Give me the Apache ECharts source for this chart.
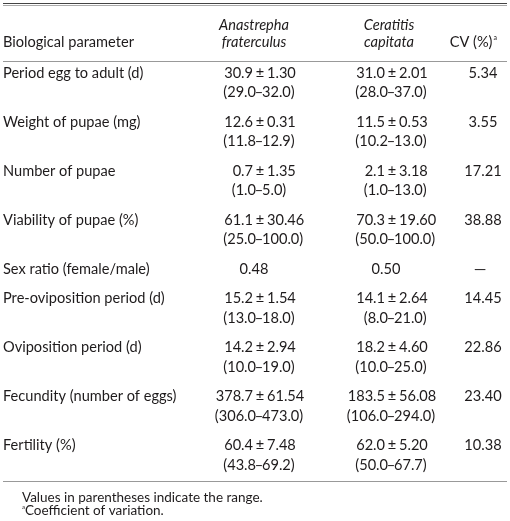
<!DOCTYPE html>
<html><head><meta charset="utf-8">
<script src="https://cdn.jsdelivr.net/npm/echarts@6/dist/echarts.min.js"></script>
<style>html,body{margin:0;padding:0;background:#fff}#c{width:510px;height:521px}</style>
</head><body><div id="c"></div>
<script>
// ---- data ----
const params = ['Period egg to adult (d)','Weight of pupae (mg)','Number of pupae','Viability of pupae (%)','Sex ratio (female/male)','Pre-oviposition period (d)','Oviposition period (d)','Fecundity (number of eggs)','Fertility (%)'];
const anaMean = [30.9, 12.6, 0.7, 61.1, 0.48, 15.2, 14.2, 378.7, 60.4];
const anaSD   = [1.30, 0.31, 1.35, 30.46, null, 1.54, 2.94, 61.54, 7.48];
const anaMin  = [29.0, 11.8, 1.0, 25.0, null, 13.0, 10.0, 306.0, 43.8];
const anaMax  = [32.0, 12.9, 5.0, 100.0, null, 18.0, 19.0, 473.0, 69.2];
const cerMean = [31.0, 11.5, 2.1, 70.3, 0.50, 14.1, 18.2, 183.5, 62.0];
const cerSD   = [2.01, 0.53, 3.18, 19.60, null, 2.64, 4.60, 56.08, 5.20];
const cerMin  = [28.0, 10.2, 1.0, 50.0, null, 8.0, 10.0, 106.0, 50.0];
const cerMax  = [37.0, 13.0, 13.0, 100.0, null, 21.0, 25.0, 294.0, 67.7];
const cv      = [5.34, 3.55, 17.21, 38.88, null, 14.45, 22.86, 23.40, 10.38];
const headers = ['Biological parameter', ['Anastrepha','fraterculus'], ['Ceratitis','capitata'], 'CV (%)'];
const notes = ['Values in parentheses indicate the range.', 'Coefficient of variation.'];

// ---- layout ----
const FONT = 'Lato';
const FS = 14.6;
const COLOR = '#1e1b1c';
const colX = [3, 260, 392, 483];
// row positions in "line units"
const yStart = [];
let acc = 0;
params.forEach((p, i) => { yStart.push(acc); acc += (anaSD[i] == null ? 1 : 2) + 0.5; });
const data = params.map((p, i) => [i, yStart[i], 0]);

function txt(x, y, text, align, extra) {
  return Object.assign({type: 'text', style: Object.assign({x, y, text, align, verticalAlign: 'middle',
    fontFamily: FONT, fontSize: FS, fill: COLOR}, extra || {})});
}
function meanSd(ax, y, m, s, mdec) {
  return [txt(ax - 7, y, m.toFixed(mdec), 'right'), txt(ax, y, '±', 'center'), txt(ax + 7, y, s.toFixed(2), 'left')];
}
function range(ax, y, a, b) {
  return [txt(ax - 4, y, '(' + a.toFixed(1), 'right'), txt(ax - 1, y, '–', 'center'), txt(ax + 2, y, b.toFixed(1) + ')', 'left')];
}

function renderItem(p, api) {
  const i = api.value(0);
  const u = api.value(1);
  const y1 = api.coord([0, u])[1];
  const y2 = api.coord([0, u + 1])[1];
  const X = k => api.coord([colX[k], u])[0];
  let ch = [txt(X(0), y1, params[i], 'left')];
  if (anaSD[i] == null) {
    ch.push(txt(X(1) - 6, y1, anaMean[i].toFixed(2), 'center'));
    ch.push(txt(X(2) - 6, y1, cerMean[i].toFixed(2), 'center'));
    ch.push(txt(X(3) - 3, y1, '—', 'center', {fontSize: 16}));
  } else {
    ch = ch.concat(meanSd(X(1), y1, anaMean[i], anaSD[i], 1), range(X(1), y2, anaMin[i], anaMax[i]));
    ch = ch.concat(meanSd(X(2), y1, cerMean[i], cerSD[i], 1), range(X(2), y2, cerMin[i], cerMax[i]));
    ch.push(txt(X(3), y1, cv[i].toFixed(2), 'center'));
  }
  return {type: 'group', children: ch};
}

const chart = echarts.init(document.getElementById('c'), null, {renderer: 'canvas'});
const hs = (x, y, t, align, italic) => ({type: 'text', x: 0, y: 0, style: {x, y, text: t, align, verticalAlign: 'middle', fontFamily: FONT, fontSize: FS, fontStyle: italic ? 'italic' : 'normal', fill: COLOR}});
const rule = (y, c, w) => ({type: 'line', shape: {x1: 3, y1: y, x2: 507, y2: y}, style: {stroke: c, lineWidth: w || 1}});
chart.setOption({
  animation: false,
  grid: {left: 0, right: 0, top: 53.4, bottom: 36.4},
  xAxis: {type: 'value', min: 0, max: 510, show: false},
  yAxis: {type: 'value', min: -1, max: 21, inverse: true, show: false},
  series: [{type: 'custom', renderItem, data, encode: {x: 2, y: 1}, silent: true, clip: false}],
  graphic: [
    rule(3.5, '#444'), rule(5.5, '#aaa'),
    rule(61.5, '#999'), rule(481.5, '#999'),
    hs(3, 42, headers[0], 'left'),
    hs(254, 25, headers[1][0], 'center', true), hs(254, 42, headers[1][1], 'center', true),
    hs(389, 25, headers[2][0], 'center', true), hs(389, 42, headers[2][1], 'center', true),
    {type: 'text', style: {x: 497, y: 42, align: 'right', verticalAlign: 'middle', text: headers[3] + '{s|a}', fontFamily: FONT, fontSize: FS, fill: COLOR,
      rich: {s: {fontSize: 7, fontFamily: FONT, fill: COLOR, verticalAlign: 'top', padding: [0, 0, 0, 1]}}}},
    {type: 'text', style: {x: 22, y: 498, align: 'left', verticalAlign: 'middle', text: notes[0], fontFamily: FONT, fontSize: 13.5, fill: COLOR}},
    {type: 'text', style: {x: 22, y: 511, align: 'left', verticalAlign: 'middle', text: '{s|a}' + notes[1], fontFamily: FONT, fontSize: 13.5, fill: COLOR,
      rich: {s: {fontSize: 6, fontFamily: FONT, fill: COLOR, verticalAlign: 'top'}}}}
  ]
});
</script></body></html>
